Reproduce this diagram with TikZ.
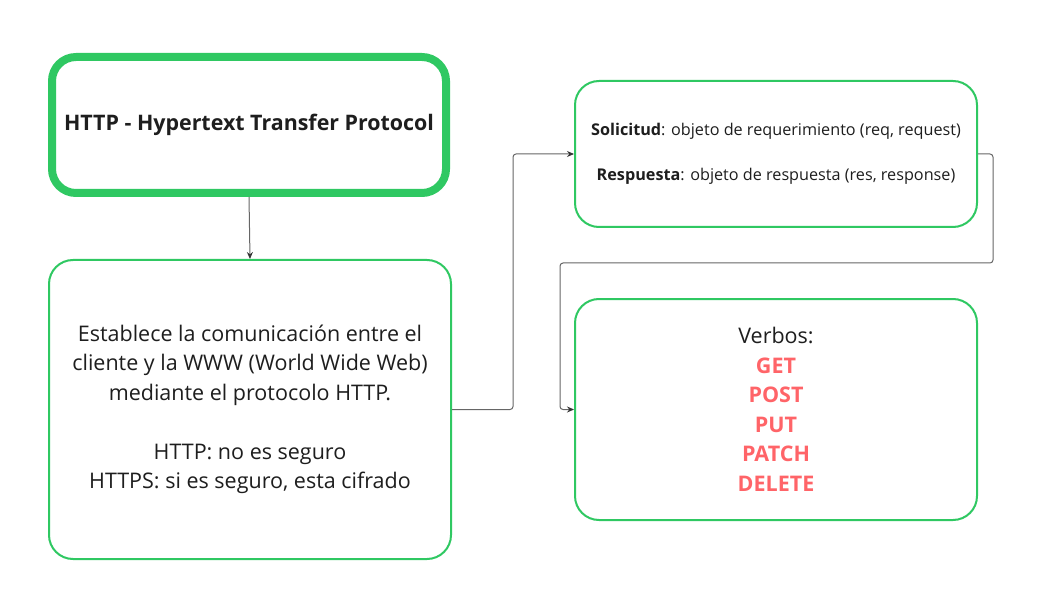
\documentclass[tikz,border=0pt]{standalone}
\usepackage{fontspec}
\setmainfont{Open Sans}
\usetikzlibrary{arrows.meta}
\definecolor{boxgreen}{HTML}{2FC862}
\definecolor{verbred}{HTML}{FF6468}
\definecolor{linegray}{HTML}{666666}
\definecolor{txt}{HTML}{1E1E1E}
\newcommand{\verbw}[1]{\textcolor{verbred}{\textbf{#1}}}
\tikzset{
  gbox/.style={draw=boxgreen, line width=2pt, rounded corners=24pt, align=center, text=txt, fill=white},
  titlebox/.style={gbox, line width=8pt},
  conn/.style={draw=linegray, line width=1pt, rounded corners=3pt, -{Stealth[length=7pt,width=6pt,color=txt!90]}},
}
\begin{document}
\begin{tikzpicture}[x=1pt,y=-1pt]
\useasboundingbox (0,0) rectangle (1040,593);
\node[titlebox, minimum width=394pt, minimum height=136pt,
  font=\fontsize{21.4pt}{26pt}\selectfont\bfseries] (b1) at (249,125)
  {HTTP - Hypertext Transfer Protocol};
\node[gbox, minimum width=402pt, minimum height=299pt,
  font=\fontsize{21.5pt}{29.5pt}\selectfont] (b2) at (250,409.5)
  {Establece la comunicación entre el\\
   cliente y la WWW (World Wide Web)\\
   mediante el protocolo HTTP.\\[29.5pt]
   HTTP: no es seguro\\
   HTTPS: si es seguro, esta cifrado};
\node[gbox, minimum width=402pt, minimum height=146pt,
  font=\fontsize{16.2pt}{22.5pt}\selectfont] (b3) at (776,154)
  {\textbf{Solicitud}: objeto de requerimiento (req, request)\\[22.5pt]
   \textbf{Respuesta}: objeto de respuesta (res, response)};
\node[gbox, minimum width=402pt, minimum height=221pt,
  font=\fontsize{21.5pt}{29.5pt}\selectfont] (b4) at (776,409.5)
  {Verbos:\\ \verbw{GET}\\ \verbw{POST}\\ \verbw{PUT}\\ \verbw{PATCH}\\ \verbw{DELETE}};
\coordinate (k1) at (513,409.5);
\coordinate (k2) at (993,263);
\coordinate (k3) at (560,263);
\draw[conn] (b1.south) -- (b2.north);
\draw[conn] (b2.east) -- (k1) |- (b3.west);
\draw[conn] (b3.east) -| (k2) -- (k3) |- (b4.west);
\end{tikzpicture}
\end{document}
